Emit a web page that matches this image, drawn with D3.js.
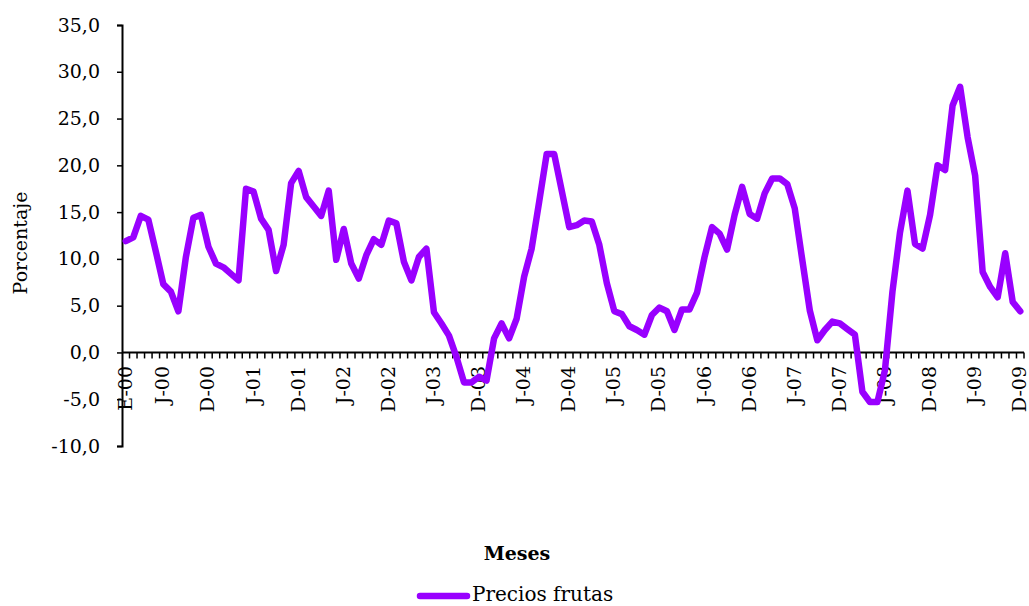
<!DOCTYPE html>
<html>
<head>
<meta charset="utf-8">
<script src="https://cdn.jsdelivr.net/npm/d3@7"></script>
<style>
  body { margin: 0; background: #fff; }
  svg { display: block; }
  text { font-family: "DejaVu Serif", serif; fill: #000; }
</style>
</head>
<body>
<div id="wrapper"></div>
<script>
// monthly categories, Jan 2000 .. Dec 2009
const months = d3.timeMonth.range(new Date(2000, 0, 1), new Date(2010, 0, 1))

// precios frutas, variación (%)
const preciosFrutas = [
  11.9, 12.3, 14.6, 14.2, 10.8, 7.3, 6.5, 4.4, 10.2, 14.4, 14.7, 11.3,
  9.5, 9.1, 8.4, 7.7, 17.5, 17.2, 14.3, 13.1, 8.7, 11.5, 18.1, 19.4,
  16.6, 15.6, 14.6, 17.3, 9.9, 13.2, 9.5, 7.9, 10.4, 12.1, 11.5, 14.1,
  13.8, 9.7, 7.7, 10.2, 11.1, 4.3, 3.1, 1.8, -0.5, -3.2, -3.2, -2.6,
  -3.0, 1.5, 3.1, 1.5, 3.6, 8.1, 11.1, 16.1, 21.2, 21.2, 17.3, 13.4,
  13.6, 14.1, 14.0, 11.5, 7.4, 4.4, 4.1, 2.8, 2.4, 1.9, 4.0, 4.8,
  4.4, 2.4, 4.6, 4.6, 6.4, 10.2, 13.4, 12.7, 11.0, 14.7, 17.7, 14.8,
  14.3, 17.0, 18.6, 18.6, 18.0, 15.4, 9.9, 4.5, 1.3, 2.4, 3.3, 3.1,
  2.5, 1.9, -4.2, -5.3, -5.3, -1.9, 6.5, 12.8, 17.3, 11.6, 11.1, 14.7,
  20.0, 19.5, 26.4, 28.4, 23.0, 18.9, 8.6, 7.0, 5.9, 10.6, 5.4, 4.4
]

// x labels shown (month index -> text)
const tickIndex = [0, 5, 11, 17, 23, 29, 35, 41, 47, 53, 59, 65, 71, 77, 83, 89, 95, 101, 107, 113, 119]
const tickLabels = ["E-00", "J-00", "D-00", "J-01", "D-01", "J-02", "D-02", "J-03", "D-03", "J-04", "D-04",
  "J-05", "D-05", "J-06", "D-06", "J-07", "D-07", "J-08", "D-08", "J-09", "D-09"]

const yTicks = [-10, -5, 0, 5, 10, 15, 20, 25, 30, 35]

const dimensions = {
  width: 1029,
  height: 606,
  left: 122,
  right: 1024,
  top: 25,
  bottom: 446,
}

const svg = d3.select("#wrapper")
  .append("svg")
  .attr("width", dimensions.width)
  .attr("height", dimensions.height)

const xScale = d3.scaleBand()
  .domain(d3.range(months.length))
  .range([dimensions.left, dimensions.right])

const yScale = d3.scaleLinear()
  .domain([-10, 35])
  .range([dimensions.bottom, dimensions.top])

const xCenter = i => xScale(i) + xScale.bandwidth() / 2
const fmt = v => d3.format(".1f")(v).replace(".", ",").replace("−", "-")

// y axis
const yAxis = svg.append("g")
  .attr("transform", `translate(${dimensions.left},0)`)
  .call(d3.axisLeft(yScale).tickValues(yTicks).tickSize(5).tickPadding(17).tickFormat(fmt))
yAxis.select(".domain").attr("stroke", "#000").attr("stroke-width", 2)
yAxis.selectAll(".tick line").attr("stroke", "#000").attr("stroke-width", 1.5)
yAxis.selectAll(".tick text")
  .style("font-family", "DejaVu Serif, serif")
  .style("font-size", "19px")
  .attr("fill", "#000")

// category axis at zero
const zeroY = yScale(0)
svg.append("line")
  .attr("x1", dimensions.left).attr("x2", dimensions.right)
  .attr("y1", zeroY).attr("y2", zeroY)
  .attr("stroke", "#000").attr("stroke-width", 2)

svg.append("g")
  .selectAll("line")
  .data(d3.range(1, months.length + 1))
  .join("line")
  .attr("x1", i => i < months.length ? xScale(i) : dimensions.right)
  .attr("x2", i => i < months.length ? xScale(i) : dimensions.right)
  .attr("y1", zeroY)
  .attr("y2", zeroY + 6)
  .attr("stroke", "#000")
  .attr("stroke-width", 1.5)

// x labels, rotated, read bottom to top, top end at y=366
const labelTop = 366
svg.append("g")
  .selectAll("text")
  .data(tickIndex)
  .join("text")
  .style("text-anchor", "start")
  .style("font-size", "19px")
  .text((d, i) => tickLabels[i])
  .attr("transform", function(d) {
    const len = this.getComputedTextLength()
    return `translate(${xCenter(d) + 6},${labelTop + len}) rotate(-90)`
  })

// line
const line = d3.line()
  .x((d, i) => xCenter(i))
  .y(d => yScale(d))

svg.append("path")
  .datum(preciosFrutas)
  .attr("d", line)
  .attr("fill", "none")
  .attr("stroke", "#9900ff")
  .attr("stroke-width", 6.5)
  .attr("stroke-linejoin", "round")
  .attr("stroke-linecap", "round")

// axis titles
svg.append("text")
  .attr("transform", "translate(27,243) rotate(-90)")
  .style("text-anchor", "middle")
  .style("font-size", "19px")
  .text("Porcentaje")

svg.append("text")
  .attr("x", 517)
  .attr("y", 560)
  .style("text-anchor", "middle")
  .style("font-size", "19px")
  .style("font-weight", "bold")
  .text("Meses")

// legend
svg.append("line")
  .attr("x1", 420).attr("x2", 467)
  .attr("y1", 596).attr("y2", 596)
  .attr("stroke", "#9900ff")
  .attr("stroke-width", 6.5)
  .attr("stroke-linecap", "round")

svg.append("text")
  .attr("x", 472)
  .attr("y", 601)
  .style("font-size", "20px")
  .text("Precios frutas")
</script>
</body>
</html>
